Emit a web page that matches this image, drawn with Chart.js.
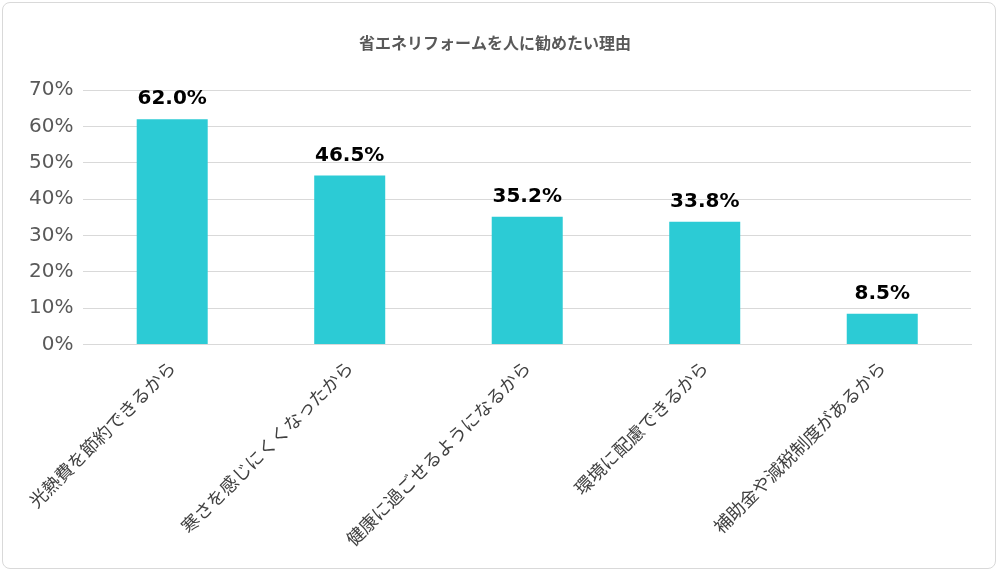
<!DOCTYPE html>
<html>
<head>
<meta charset="utf-8">
<script src="https://cdn.jsdelivr.net/npm/chart.js@4"></script>
<style>
  html, body { margin: 0; padding: 0; background: #fff; }
  #wrap { position: absolute; left: 2px; top: 2px; width: 994px; height: 567px; border: 1px solid #d9d9d9; border-radius: 8px; box-sizing: border-box; }
  canvas { display: block; }
</style>
</head>
<body>
<div id="wrap"><canvas id="chart"></canvas></div>
<script>
// Data
const categories = ['光熱費を節約できるから', '寒さを感じにくくなったから', '健康に過ごせるようになるから', '環境に配慮できるから', '補助金や減税制度があるから'];
const values = [62.0, 46.5, 35.2, 33.8, 8.5];
const titleText = '省エネリフォームを人に勧めたい理由';

const font = "'Noto Sans CJK JP', 'Noto Sans', sans-serif";

// Value labels above bars
const valueLabels = {
  id: 'valueLabels',
  afterDatasetsDraw(chart) {
    const ctx = chart.ctx;
    const meta = chart.getDatasetMeta(0);
    ctx.save();
    ctx.fillStyle = '#000';
    ctx.font = "bold 20px 'DejaVu Sans', sans-serif";
    ctx.textAlign = 'center';
    ctx.textBaseline = 'bottom';
    meta.data.forEach((bar, i) => {
      ctx.fillText(values[i].toFixed(1) + '%', bar.x, bar.y - 10);
    });
    ctx.restore();
  }
};

new Chart(document.getElementById('chart'), {
  type: 'bar',
  data: {
    labels: categories,
    datasets: [{
      data: values,
      backgroundColor: '#2ccbd5',
      categoryPercentage: 1,
      barPercentage: 0.4
    }]
  },
  options: {
    responsive: true,
    maintainAspectRatio: false,
    animation: false,
    layout: { padding: { left: 16, right: 24, top: 8, bottom: 14 } },
    plugins: {
      legend: { display: false },
      tooltip: { enabled: false },
      title: {
        display: true,
        text: titleText,
        color: '#595959',
        font: { family: font, size: 16, weight: 'bold' },
        padding: { top: 22, bottom: 38 }
      }
    },
    scales: {
      y: {
        min: 0,
        max: 70,
        ticks: {
          stepSize: 10,
          color: '#595959',
          font: { family: "'DejaVu Sans', sans-serif", size: 20 },
          callback: v => v + '%',
          padding: 10
        },
        grid: { color: '#d9d9d9', drawTicks: false },
        border: { display: false }
      },
      x: {
        ticks: {
          color: '#404040',
          font: { family: font, size: 18 },
          maxRotation: 45,
          minRotation: 45,
          padding: 4
        },
        grid: { display: false },
        border: { color: '#d9d9d9' }
      }
    }
  },
  plugins: [valueLabels]
});
</script>
</body>
</html>
